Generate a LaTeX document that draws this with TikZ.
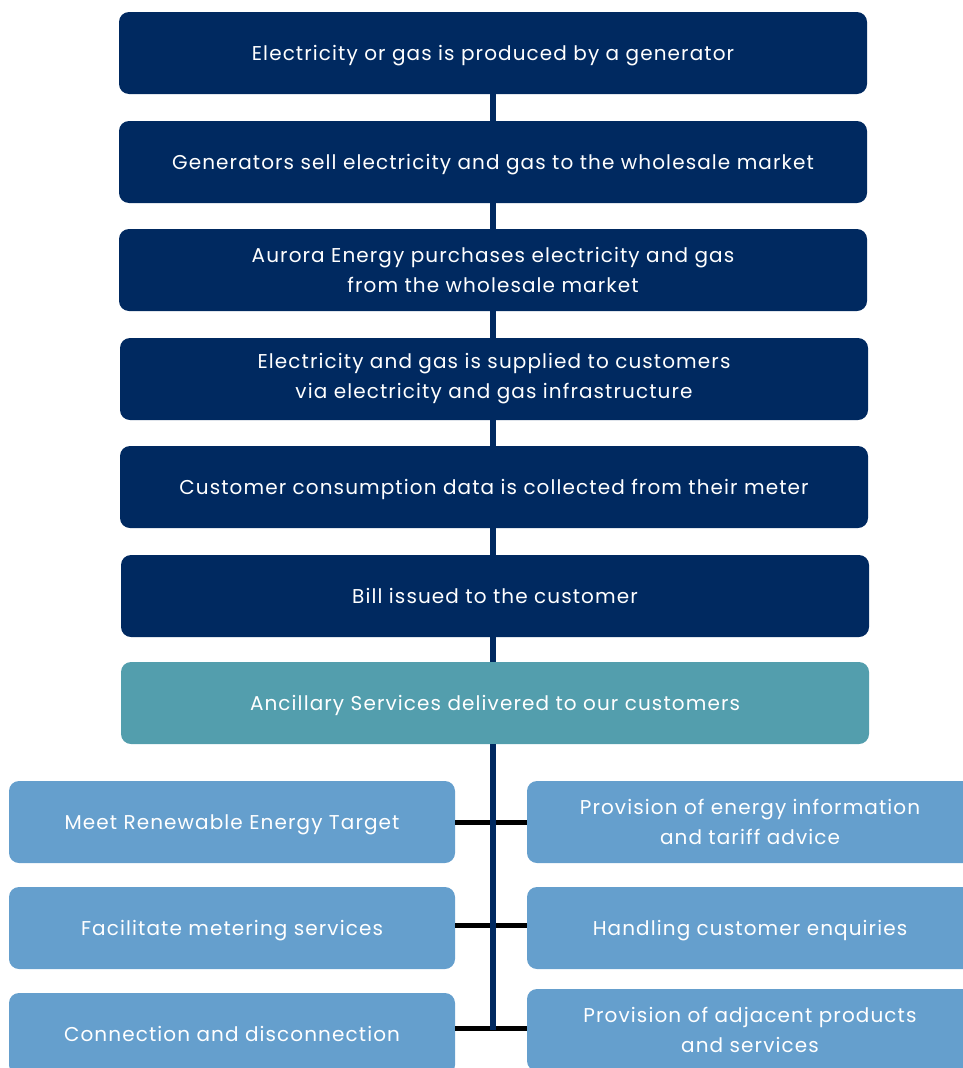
\documentclass[tikz,border=0pt]{standalone}
\usepackage{fontspec}
\setmainfont{Poppins}[LetterSpace=5.5]
\usetikzlibrary{calc}
\definecolor{navy}{RGB}{0,41,96}
\definecolor{teal}{RGB}{83,158,173}
\definecolor{lblue}{RGB}{101,159,205}
\begin{document}
\begin{tikzpicture}[x=1pt,y=-1pt,
  box/.style={rounded corners=10pt, inner sep=0pt, text=white, align=center,
    font=\fontsize{20}{30}\selectfont, minimum height=82pt},
  oneline/.style={text height=18pt, text depth=4pt},
  mainbox/.style={box, fill=navy, minimum width=748pt},
  ancbox/.style={box, fill=teal, minimum width=748pt},
  subbox/.style={box, fill=lblue, minimum width=446pt},
  spine/.style={draw=navy, line width=6pt},
  branch/.style={draw=black, line width=5pt}]
\useasboundingbox (0,0) rectangle (963,1068);
\begin{scope}
\clip (0,0) rectangle (963,1068);
\node[mainbox,oneline] (b1) at (493,53) {Electricity or gas is produced by a generator};
\node[mainbox,oneline] (b2) at (493,162) {Generators sell electricity and gas to the wholesale market};
\node[mainbox] (b3) at (493,270) {Aurora Energy purchases electricity and gas\\from the wholesale market};
\node[mainbox] (b4) at (494,379) {Electricity and gas is supplied to customers\\via electricity and gas infrastructure};
\node[mainbox,oneline] (b5) at (494,487) {Customer consumption data is collected from their meter};
\node[mainbox,oneline] (b6) at (495,596) {Bill issued to the customer};
\node[ancbox,oneline] (b7) at (495,703) {Ancillary Services delivered to our customers};
\node[subbox,oneline] (l1) at (232,822) {Meet Renewable Energy Target};
\node[subbox,oneline] (l2) at (232,928) {Facilitate metering services};
\node[subbox,oneline] (l3) at (232,1034) {Connection and disconnection};
\node[subbox] (r1) at (750,822) {Provision of energy information\\and tariff advice};
\node[subbox,oneline] (r2) at (750,928) {Handling customer enquiries};
\node[subbox] (r3) at (750,1030) {Provision of adjacent products\\and services};
\coordinate (j1) at (493,822);
\coordinate (j2) at (493,925);
\coordinate (j3) at (493,1028);
\coordinate (spineend) at (493,1030);
\draw[branch] (l1.east |- j1) -- (r1.west |- j1);
\draw[branch] (l2.east |- j2) -- (r2.west |- j2);
\draw[branch] (l3.east |- j3) -- (r3.west |- j3);
\draw[spine] (b1.south -| j1) -- (b2.north -| j1);
\draw[spine] (b2.south -| j1) -- (b3.north -| j1);
\draw[spine] (b3.south -| j1) -- (b4.north -| j1);
\draw[spine] (b4.south -| j1) -- (b5.north -| j1);
\draw[spine] (b5.south -| j1) -- (b6.north -| j1);
\draw[spine] (b6.south -| j1) -- (b7.north -| j1);
\draw[spine] (b7.south -| j1) -- (spineend);
\end{scope}
\end{tikzpicture}
\end{document}
